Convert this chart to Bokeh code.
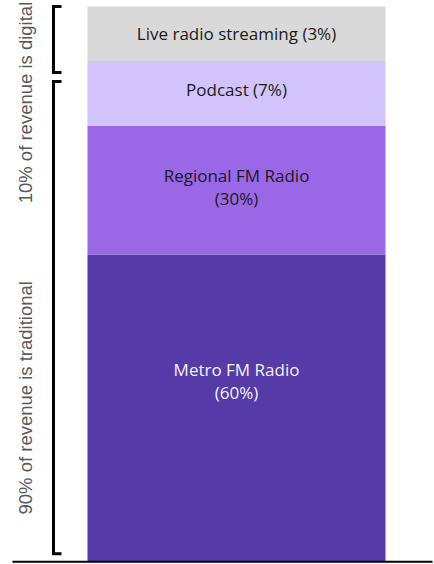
from bokeh.plotting import figure
from bokeh.models import Range1d, ColumnDataSource
from bokeh.core.properties import value
from bokeh.embed import file_html
from bokeh.resources import INLINE
import math

# ---- data ----
segments = ["Metro FM Radio", "Regional FM Radio", "Podcast", "Live radio streaming"]
shares_label = [60, 30, 7, 3]               # percentages written in the labels
drawn_heights = [55.3, 23.2, 11.7, 9.8]      # segment heights as drawn (not to scale)
colors = ["#553aa8", "#9a67e7", "#d3c3fd", "#d9d9d9"]
text_colors = ["#f2f2f2", "#1a1a1a", "#1a1a1a", "#1a1a1a"]
label_texts = ["Metro FM Radio\n(60%)", "Regional FM Radio\n(30%)", "Podcast (7%)",
               "Live radio streaming (3%)"]
group_labels = ["90% of revenue is traditional", "10% of revenue is digital"]
bracket_spans = [(1.4, 86.5), (88.1, 100.0)]

# ---- layout / style ----
W, H = 434, 564
bar_x, bar_w = 236, 298
label_dy = [-27, -3, -3.5, 0]        # px offsets of labels from segment centre
group_text_y = [29.5, 82.7]
bracket_x, tick_x, group_text_x = 53, 61, 25

p = figure(width=W, height=H, output_backend="svg", toolbar_location=None,
           x_range=Range1d(0, W), y_range=Range1d(-0.54, 101.08),
           min_border=0, outline_line_color=None)
p.axis.visible = False
p.grid.visible = False
p.background_fill_color = "white"
p.border_fill_color = "white"

bottoms, tops = [], []
acc = 0
for h in drawn_heights:
    bottoms.append(acc)
    acc += h
    tops.append(acc)
centers = [(b + t) / 2 for b, t in zip(bottoms, tops)]

src = ColumnDataSource(dict(x=[bar_x] * 4, bottom=bottoms, top=tops, color=colors,
                            cy=centers, txt=label_texts, tc=text_colors, dy=label_dy))
p.vbar(x="x", width=bar_w, bottom="bottom", top="top", fill_color="color",
       line_color=None, source=src)
p.text(x="x", y="cy", text="txt", text_color="tc", y_offset="dy",
       text_align="center", text_baseline="middle", text_font=value("Open Sans"),
       text_font_size="17px", text_line_height=1.0, source=src)

# baseline
p.segment(x0=[12], y0=[-0.05], x1=[432], y1=[-0.05], line_color="black", line_width=2)

# brackets
xs, ys = [], []
for lo, hi in bracket_spans:
    xs.append([tick_x, bracket_x, bracket_x, tick_x])
    ys.append([hi, hi, lo, lo])
p.multi_line(xs=xs, ys=ys, line_color="black", line_width=3, line_join="miter")

p.text(x=[group_text_x] * 2, y=group_text_y, text=group_labels, angle=math.pi / 2,
       text_align="center", text_baseline="middle", text_color="#595959",
       text_font=value("Liberation Sans"), text_font_size="18.5px")

open("out.html", "w").write(file_html(p, INLINE))
